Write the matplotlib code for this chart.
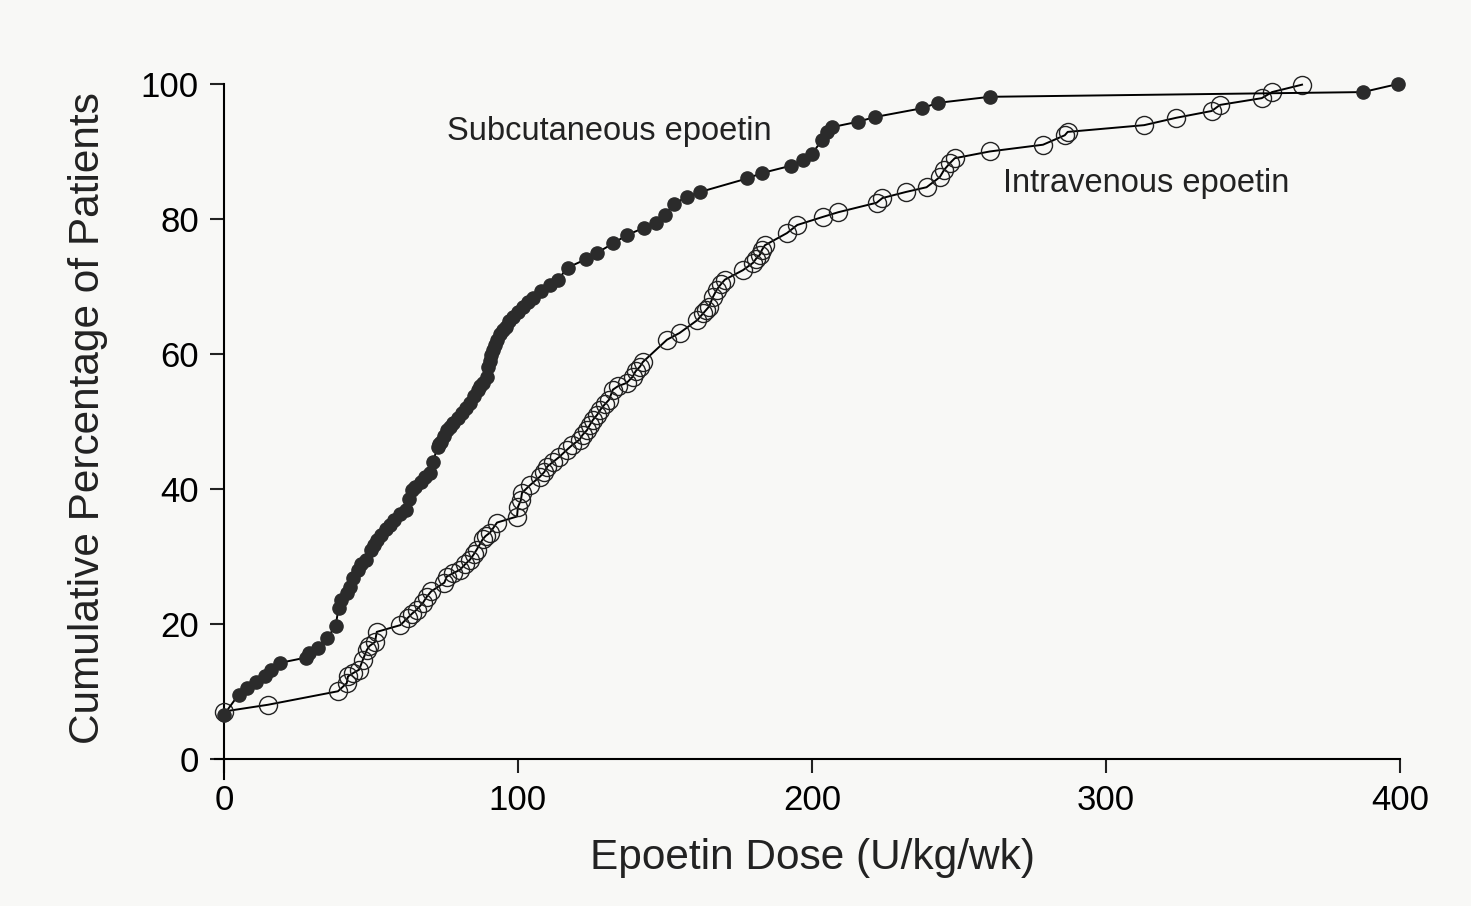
import matplotlib
matplotlib.use("Agg")
import matplotlib.pyplot as plt

# cumulative % of patients vs epoetin dose (U/kg/wk)
sc_dose = [0, 5, 8, 11, 14, 16, 19, 28, 29, 32,
           35, 38, 39, 40, 42, 43, 44, 45.5, 46.5, 48.5,
           50, 51, 52, 53.5, 55, 56.5, 58, 60, 62, 63,
           64, 65, 67, 68.5, 70, 71, 72.8, 73.3, 74, 75,
           76, 77, 78, 79.5, 81, 82.5, 83.7, 85, 86.4, 87.2,
           88, 89.4, 90, 90.5, 91, 91.5, 92.2, 92.9, 94, 95,
           96, 97, 98.3, 100, 101.7, 103.3, 105, 108, 111, 113.6,
           117, 123, 127, 132.5, 137, 143, 147, 150, 153, 157.5,
           162, 178, 183, 193, 197, 200, 203.4, 205, 206.8, 215.6,
           221.4, 237.4, 242.8, 260.5, 387.4, 399.3]
sc_pct = [6.5, 9.5, 10.5, 11.3, 12.2, 13.2, 14.2, 15, 15.6, 16.4,
          17.9, 19.6, 22.4, 23.5, 24.6, 25.5, 26.8, 28, 28.8, 29.5,
          31, 31.7, 32.4, 33.2, 34, 34.7, 35.4, 36.2, 36.9, 38.5,
          39.8, 40.3, 41, 41.7, 42.4, 44, 46.2, 46.6, 47, 47.8,
          48.7, 49.2, 49.8, 50.5, 51.3, 52, 52.7, 53.8, 54.7, 55.2,
          55.7, 56.6, 58, 59, 59.8, 60.6, 61.3, 62.1, 63, 63.5,
          64, 64.8, 65.5, 66.2, 67, 67.7, 68.3, 69.3, 70.2, 71,
          72.8, 74, 75, 76.4, 77.6, 78.7, 79.4, 80.6, 82.2, 83.3,
          84, 86, 86.8, 87.9, 88.7, 89.6, 91.7, 92.9, 93.6, 94.4,
          95.1, 96.4, 97.2, 98.1, 98.8, 100]

iv_dose = [0, 15, 38.8, 41.8, 42.2, 44, 46, 47.3, 48.6, 49.5,
           51.4, 52, 60, 62.6, 64, 65.6, 67.7, 69, 70.5, 75,
           75.8, 78, 80.3, 82, 83.7, 85, 86, 88, 89, 90.5,
           92.9, 99.7, 100, 101, 101.4, 104, 107.5, 109, 110, 112,
           114, 116.7, 118.5, 121, 122, 123.5, 124.5, 125.5, 127, 128,
           129.5, 131, 132.3, 134, 137, 139, 140, 141.5, 142.5, 150.7,
           155, 161, 163, 164, 165, 166.3, 167.6, 169, 170.4, 176.5,
           180, 181, 182.3, 183, 184, 191.5, 195, 203.7, 209, 222,
           224, 232, 239, 243.5, 245, 247, 248.6, 260.5, 278.6, 286,
           287, 313, 324, 336, 338.8, 353, 356.5, 366.7]
iv_pct = [7, 8, 10, 11.2, 12.2, 12.7, 13.2, 14.7, 16.1, 16.7,
          17.3, 18.8, 19.8, 20.9, 21.5, 22.1, 23.1, 24, 24.8, 26.1,
          27, 27.5, 28, 28.8, 29.5, 30.3, 31, 32.5, 33, 33.5,
          35, 35.9, 37.3, 38.3, 39.4, 40.5, 41.8, 42.5, 43.3, 44,
          44.7, 45.8, 46.5, 47.3, 48, 48.7, 49.5, 50.2, 51, 51.7,
          52.5, 53.2, 54.7, 55.2, 55.7, 56.6, 57.4, 58.1, 58.8, 62.1,
          63.1, 65, 66, 66.5, 67, 68.4, 69.5, 70.3, 71, 72.4,
          73.5, 74.1, 74.7, 75.4, 76.1, 77.9, 79.1, 80.3, 81, 82.4,
          83.1, 84, 84.7, 86.2, 87.3, 88.3, 89, 90, 91, 92.4,
          92.9, 93.9, 95, 96, 96.9, 97.9, 98.8, 99.9]

x_ticks = [0, 100, 200, 300, 400]
y_ticks = [0, 20, 40, 60, 80, 100]

plt.rcParams["font.family"] = ["Liberation Sans", "DejaVu Sans"]

bg = "#f8f8f6"
ink = "#222222"
fig = plt.figure(figsize=(14.71, 9.06), dpi=100, facecolor=bg)
ax = fig.add_axes([0.1462, 0.1402, 0.8055, 0.7671], facecolor=bg)

ax.plot(iv_dose, iv_pct, color="black", lw=1.4, marker="o", ms=13,
        mfc="none", mec=ink, mew=1.0, clip_on=False, zorder=3)
ax.plot(sc_dose, sc_pct, color="black", lw=1.4, marker="o", ms=9.5,
        mfc="#2b2b2b", mec="#2b2b2b", clip_on=False, zorder=4)

ax.set_xlim(-3, 400)
ax.set_ylim(-3, 100)
ax.spines["left"].set_position(("data", 0))
ax.spines["bottom"].set_position(("data", 0))
for s in ["top", "right"]:
    ax.spines[s].set_visible(False)
for s in ["left", "bottom"]:
    ax.spines[s].set_linewidth(1.5)

ax.set_xticks(x_ticks)
ax.set_yticks(y_ticks)
ax.tick_params(axis="both", direction="out", length=10, width=1.5,
               labelsize=25, pad=8, color=ink)

ax.text(76, 92.9, "Subcutaneous epoetin", fontsize=23.5, va="center", ha="left",
        color=ink)
ax.text(265, 85.3, "Intravenous epoetin", fontsize=23.5, va="center", ha="left",
        color=ink)

fig.text(88 / 1471, 1 - 418 / 906, "Cumulative Percentage of Patients",
         rotation=90, fontsize=30.5, ha="center", va="center", color=ink)
fig.text(813 / 1471, 1 - 858 / 906, "Epoetin Dose (U/kg/wk)",
         fontsize=30.5, ha="center", va="center", color=ink)

plt.savefig("out.png", dpi=100, facecolor=bg)
